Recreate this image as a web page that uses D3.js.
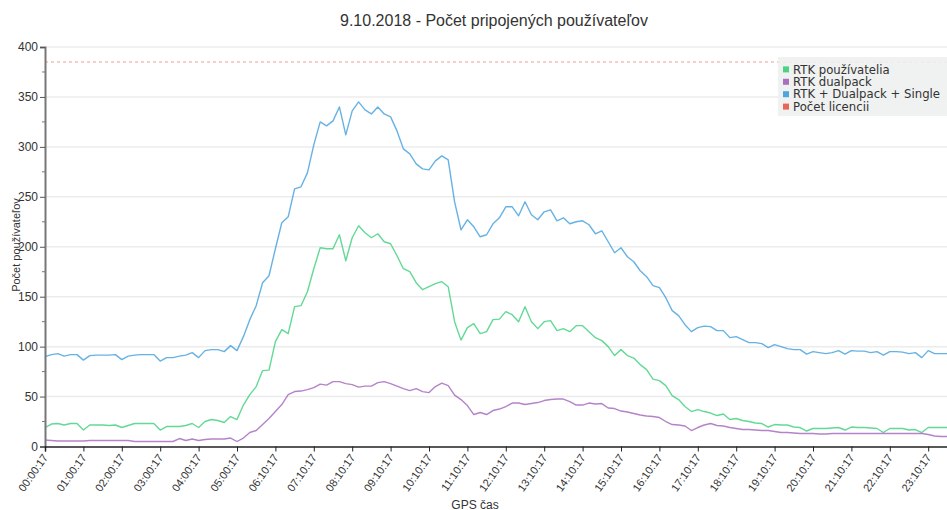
<!DOCTYPE html>
<html>
<head>
<meta charset="utf-8">
<script src="https://cdn.jsdelivr.net/npm/d3@7"></script>
<style>
	body { margin: 0; background: #fff; }
	svg { display: block; }
</style>
</head>
<body>
<svg id="chart" width="947" height="510"></svg>
<script>
// one tick label per hour, data every 10 minutes (6 points per tick)
const hourLabels = ["00:00:17", "01:00:17", "02:00:17", "03:00:17", "04:00:17", "05:00:17",
	"06:10:17", "07:10:17", "08:10:17", "09:10:17", "10:10:17", "11:10:17", "12:10:17",
	"13:10:17", "14:10:17", "15:10:17", "16:10:17", "17:10:17", "18:10:17", "19:10:17",
	"20:10:17", "21:10:17", "22:10:17", "23:10:17"];

const rtkUsers = [19, 22.5, 23, 21.5, 23, 23, 16.5, 21.5, 21.5, 21.5, 21, 21.5,
	19, 21, 23, 23, 23, 23, 16.5, 20, 20, 20, 21, 23,
	19, 25, 27, 26, 24, 30, 27, 41.5, 52, 60, 76, 76.5,
	105, 117, 113, 140, 141, 155, 178, 199, 198, 198, 212, 186,
	209, 221, 214, 209, 213, 205, 203, 191, 178, 175, 164, 157,
	160, 163, 165, 160, 125, 106.5, 119, 123, 113, 115, 127, 127.5,
	135, 132, 125, 140, 125, 118, 125, 126, 116, 118, 115, 121,
	121, 115, 109, 106, 100, 91, 97, 91, 88.5, 82, 77, 67.5,
	66, 61, 51, 47, 40, 35, 37, 35, 33.5, 31, 32.5, 27,
	28, 26, 25, 23.5, 23, 19.5, 22, 21.5, 21.5, 19.5, 19, 15.5,
	18, 18, 18, 18.5, 19, 16.5, 19.5, 19, 19, 18.5, 18, 14,
	18, 18, 18, 16.5, 17, 14, 19, 19, 19, 19];

const rtkDualpack = [6.5, 6, 5.5, 5.5, 5.5, 5.5, 5.5, 6, 6, 6, 6, 6,
	6, 6, 5, 5, 5, 5, 5, 5, 5, 8, 6, 7.5,
	6, 7, 7.5, 7.5, 7.5, 8.5, 5, 8.5, 14, 16, 22, 28,
	35, 42, 52, 55, 55.5, 57, 59, 62.5, 61.5, 65, 65, 63,
	62, 59.5, 60.5, 60.5, 64, 65, 63, 60.5, 58, 56, 58, 55,
	54, 60, 63.5, 61, 51.5, 47, 41, 32, 34, 32, 36, 37.5,
	40, 43.5, 43.5, 42, 43, 44, 46, 47, 47.5, 47.5, 45, 41.5,
	41.5, 43.5, 42.5, 43, 38.5, 38, 35.5, 34.5, 33, 31.5, 30.5, 30,
	29, 25, 22, 21.5, 20.5, 16, 19, 21.5, 23, 21, 20.5, 19,
	18, 17, 17, 16.5, 16, 16, 15, 14, 14, 13.5, 13, 13,
	13, 12.5, 12.5, 13, 13, 13, 13, 13, 13, 13, 13, 13,
	13, 13, 13, 13, 13, 13, 12, 10.5, 10, 10];

const rtkTotal = [90, 92, 93, 90.5, 92, 92, 86.5, 91, 91.5, 91.5, 91.5, 92,
	87, 90.5, 91.5, 92, 92, 92, 85.5, 89, 89, 90.5, 91.5, 94,
	89, 96, 97, 97, 95, 101, 96, 110, 127, 141, 164, 171,
	198, 224, 230, 258, 260, 274, 302, 325, 321, 326, 340, 312,
	336, 345, 337, 333, 340, 333, 330, 316, 298, 293, 283, 278,
	277, 286, 291, 287, 245, 217, 227, 220, 210, 212, 223, 229,
	240, 240, 231, 245, 232, 227, 235, 237, 226, 229, 223, 225,
	226, 222, 213, 216, 205, 194, 199, 190, 185, 176, 170, 161,
	159, 149, 136, 131, 122, 115, 119, 120.5, 120, 116, 116, 109,
	110, 107, 104, 104, 103, 99, 102, 100, 98, 97, 97, 92.5,
	95, 94, 93, 94, 96, 92.5, 96, 95.5, 95.5, 94, 95, 91.5,
	95, 95, 94.5, 93, 94, 89, 96, 93, 93, 93];

const licenseLimit = 385;

const seriesNames = ["RTK používatelia", "RTK dualpack", "RTK + Dualpack + Single", "Počet licencii"];
const seriesColors = ["#2ecc71", "#9b59b6", "#3498db", "#e74c3c"];

const pointsPerTick = 6;

let dimensions = {
	width: 947,
	height: 510,
	margin: { top: 47, right: 0, bottom: 63.5, left: 45 },
};
dimensions.boundedWidth = dimensions.width - dimensions.margin.left - dimensions.margin.right;
dimensions.boundedHeight = dimensions.height - dimensions.margin.top - dimensions.margin.bottom;

const svg = d3.select("#chart");

const xScale = d3.scaleLinear()
	.domain([0, rtkTotal.length - 1])
	.range([dimensions.margin.left, dimensions.margin.left + (rtkTotal.length - 1) * 6.4]);

const yScale = d3.scaleLinear()
	.domain([0, 400])
	.range([dimensions.margin.top + dimensions.boundedHeight, dimensions.margin.top]);

// title
svg.append("text")
	.attr("x", 494)
	.attr("y", 26)
	.attr("text-anchor", "middle")
	.style("font-family", "'Liberation Sans', Arial, sans-serif")
	.style("font-size", "16px")
	.style("fill", "#333")
	.text("9.10.2018 - Počet pripojených používateľov");

// grid
const majorTicks = d3.range(0, 401, 50);
svg.append("g")
	.selectAll("line")
	.data(majorTicks.slice(1))
	.enter()
	.append("line")
	.attr("x1", xScale.range()[0])
	.attr("x2", dimensions.width)
	.attr("y1", d => yScale(d))
	.attr("y2", d => yScale(d))
	.attr("stroke", "#ececec")
	.attr("stroke-width", 1.5);

// licence limit
svg.append("line")
	.attr("x1", xScale.range()[0])
	.attr("x2", dimensions.width)
	.attr("y1", yScale(licenseLimit))
	.attr("y2", yScale(licenseLimit))
	.attr("stroke", seriesColors[3])
	.attr("stroke-opacity", 0.55)
	.attr("stroke-width", 1.2)
	.attr("stroke-dasharray", "3,3");

// lines
const line = d3.line()
	.x((d, i) => xScale(i))
	.y(d => yScale(d));

[rtkUsers, rtkDualpack, rtkTotal].forEach((values, k) => {
	svg.append("path")
		.datum(values)
		.attr("d", line)
		.attr("fill", "none")
		.attr("stroke", seriesColors[k])
		.attr("stroke-opacity", 0.75)
		.attr("stroke-width", 1.4)
		.attr("stroke-linejoin", "round");
});

// y axis
const yAxis = svg.append("g")
	.attr("transform", `translate(${dimensions.margin.left},0)`)
	.call(d3.axisLeft(yScale).tickValues(majorTicks).tickSize(5).tickPadding(2));
yAxis.select(".domain").attr("stroke", "#777").attr("stroke-width", 2);
yAxis.selectAll(".tick line").attr("stroke", "#555");
yAxis.selectAll("text")
	.style("font-family", "'Liberation Sans', Arial, sans-serif")
	.style("font-size", "12px")
	.style("fill", "#333");

svg.append("g")
	.attr("transform", `translate(${dimensions.margin.left},0)`)
	.selectAll("line")
	.data(d3.range(25, 400, 50))
	.enter()
	.append("line")
	.attr("x1", -3)
	.attr("x2", 0)
	.attr("y1", d => yScale(d))
	.attr("y2", d => yScale(d))
	.attr("stroke", "#777");

svg.append("text")
	.attr("transform", "translate(20,245) rotate(-90)")
	.attr("text-anchor", "middle")
	.style("font-family", "'Liberation Sans', Arial, sans-serif")
	.style("font-size", "11px")
	.style("fill", "#333")
	.text("Počet používateľov");

// x axis
const xAxis = svg.append("g")
	.attr("transform", `translate(0,${yScale(0)})`)
	.call(d3.axisBottom(xScale)
		.tickValues(hourLabels.map((d, i) => i * pointsPerTick))
		.tickFormat(d => hourLabels[d / pointsPerTick])
		.tickSize(5));
xAxis.select(".domain").attr("stroke", "#222").attr("stroke-width", 1.5);
xAxis.selectAll(".tick line").attr("stroke", "#222");
xAxis.selectAll("text")
	.attr("text-anchor", "end")
	.attr("dy", null)
	.attr("y", null)
	.attr("transform", "translate(3,11) rotate(-55)")
	.style("font-family", "'Liberation Sans', Arial, sans-serif")
	.style("font-size", "11px")
	.style("fill", "#333");

svg.append("text")
	.attr("x", 475)
	.attr("y", 508.5)
	.attr("text-anchor", "middle")
	.style("font-family", "'Liberation Sans', Arial, sans-serif")
	.style("font-size", "12px")
	.style("fill", "#333")
	.text("GPS čas");

// legend
const legend = svg.append("g").attr("transform", "translate(778,57)");
legend.append("rect")
	.attr("width", 175)
	.attr("height", 59)
	.attr("fill", "#eef0f0")
	.attr("fill-opacity", 0.9);

const items = legend.selectAll("g.item")
	.data(seriesNames)
	.enter()
	.append("g")
	.attr("transform", (d, i) => `translate(5,${12.4 + i * 12.4})`);
items.append("rect")
	.attr("y", -3)
	.attr("width", 6)
	.attr("height", 6)
	.attr("fill", (d, i) => seriesColors[i])
	.attr("fill-opacity", 0.85);
items.append("text")
	.attr("x", 10)
	.attr("dy", "0.35em")
	.style("font-family", "'DejaVu Sans', Verdana, sans-serif")
	.style("font-size", "11.7px")
	.style("fill", "#333")
	.text(d => d);
</script>
</body>
</html>
